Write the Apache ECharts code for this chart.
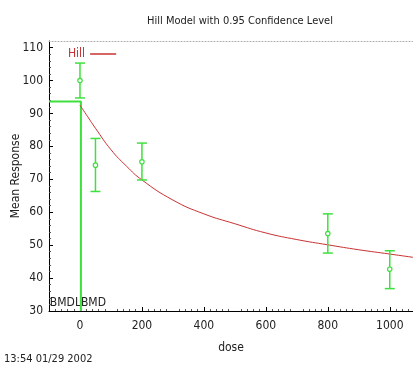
<!DOCTYPE html>
<html>
<head>
<meta charset="utf-8">
<script src="https://cdn.jsdelivr.net/npm/echarts@6/dist/echarts.min.js"></script>
<style>
  html, body { margin: 0; padding: 0; background: #fff; }
  #chart { width: 413px; height: 369px; }
</style>
</head>
<body>
<div id="chart"></div>
<script>
// Observed group means with 95% confidence limits
const doses = [0, 50, 200, 800, 1000];
const means = [100, 74.3, 75.3, 53.5, 42.7];
const lower = [94.7, 66.3, 69.8, 47.6, 36.8];
const upper = [105.3, 82.4, 81.0, 59.5, 48.3];

// Fitted Hill curve
const curveDose = [0, 25, 50, 100, 150, 200, 300, 400, 500, 600, 700, 800, 900, 1000, 1075];
const curveResp = [92.5, 89, 85.5, 79, 74, 69.8, 63.7, 59.5, 56.5, 53.7, 51.7, 50.1, 48.6, 47.3, 46.3];

// Benchmark dose markers
const bmdResponse = 93.6;
const bmdDose = 3;

// Axis ticks
const xTicks = [0, 200, 400, 600, 800, 1000];
const yTicks = [30, 40, 50, 60, 70, 80, 90, 100, 110];

const FONT = "'DejaVu Sans Condensed', 'Liberation Sans Narrow', 'Liberation Sans', Arial, sans-serif";
const GREEN = '#3ee03e';
const RED = '#c83232';

const chart = echarts.init(document.getElementById('chart'), null, { renderer: 'canvas' });

const errorData = doses.map((d, i) => [d, lower[i], upper[i], means[i]]);
const plain = v => String(v);

const stamp = {
  type: 'text', left: 4, top: 354,
  style: { text: '13:54 01/29 2002', font: '11px ' + FONT, fill: '#222' }
};

chart.setOption({
  animation: false,
  backgroundColor: '#ffffff',
  title: {
    text: 'Hill Model with 0.95 Confidence Level',
    left: 235, top: 11, textAlign: 'center',
    textStyle: { fontFamily: FONT, fontSize: 11, fontWeight: 'normal', color: '#222' }
  },
  legend: {
    data: [{ name: 'Hill', icon: 'rect' }],
    left: 63, top: 43,
    align: 'right',
    itemWidth: 26, itemHeight: 1.5, itemGap: 4,
    textStyle: { fontFamily: FONT, fontSize: 12, color: RED }
  },
  grid: { left: 49, right: 0, top: 41, bottom: 58, containLabel: false, outerBoundsMode: 'none' },
  xAxis: [{
    type: 'value', min: -100, max: 1075, interval: 100,
    name: 'dose', nameLocation: 'middle', nameGap: 31, nameMoveOverlap: false,
    nameTextStyle: { fontFamily: FONT, fontSize: 12, color: '#222' },
    axisLine: { onZero: false, lineStyle: { color: '#000', width: 1 } },
    axisTick: { inside: true, length: 4, customValues: xTicks, lineStyle: { color: '#000' } },
    minorTick: { show: true, splitNumber: 5, length: 2, lineStyle: { color: '#555' } },
    axisLabel: { customValues: xTicks, formatter: plain, margin: 9, fontFamily: FONT, fontSize: 12, color: '#222' },
    splitLine: { show: false }
  }, {
    type: 'value', position: 'top', min: -100, max: 1075, interval: 100,
    axisLine: { show: true, onZero: false, lineStyle: { color: '#aaa', width: 1, type: [1, 2] } },
    axisTick: { show: false }, axisLabel: { show: false }, splitLine: { show: false }
  }],
  yAxis: [{
    type: 'value', min: 30, max: 112, interval: 10,
    name: 'Mean Response', nameLocation: 'middle', nameGap: 27, nameRotate: 90, nameMoveOverlap: false,
    nameTextStyle: { fontFamily: FONT, fontSize: 12, color: '#222' },
    axisLine: { show: true, onZero: false, lineStyle: { color: '#000', width: 1 } },
    axisTick: { inside: true, length: 4, customValues: yTicks, lineStyle: { color: '#000' } },
    minorTick: { show: true, splitNumber: 5, length: 2, lineStyle: { color: '#555' } },
    axisLabel: { customValues: yTicks, formatter: plain, margin: 6, fontFamily: FONT, fontSize: 12, color: '#222' },
    splitLine: { show: false }
  }],
  series: [{
    name: 'Hill',
    type: 'line',
    data: curveDose.map((d, i) => [d, curveResp[i]]),
    showSymbol: false, symbol: 'none', smooth: true,
    lineStyle: { color: RED, width: 1 },
    itemStyle: { color: RED },
    z: 3
  }, {
    name: 'BMD',
    type: 'line',
    data: [[-100, bmdResponse], [bmdDose, bmdResponse], [bmdDose, 30]],
    showSymbol: false, symbol: 'none',
    lineStyle: { color: GREEN, width: 2 },
    z: 2
  }, {
    name: 'Data',
    type: 'custom',
    data: errorData,
    renderItem: function (params, api) {
      const x = api.value(0);
      const lo = api.coord([x, api.value(1)]);
      const hi = api.coord([x, api.value(2)]);
      const mid = api.coord([x, api.value(3)]);
      const cap = 5;
      const style = { stroke: GREEN, lineWidth: 1.5, fill: null };
      return {
        type: 'group',
        children: [
          { type: 'line', shape: { x1: lo[0], y1: lo[1], x2: hi[0], y2: hi[1] }, style: style },
          { type: 'line', shape: { x1: lo[0] - cap, y1: lo[1], x2: lo[0] + cap, y2: lo[1] }, style: style },
          { type: 'line', shape: { x1: hi[0] - cap, y1: hi[1], x2: hi[0] + cap, y2: hi[1] }, style: style },
          { type: 'circle', shape: { cx: mid[0], cy: mid[1], r: 2.2 }, style: { stroke: GREEN, lineWidth: 1.2, fill: '#fff' } }
        ]
      };
    },
    z: 4
  }],
  graphic: [stamp]
});

// BMDL / BMD captions on either side of the benchmark line
const base = chart.convertToPixel({ xAxisIndex: 0, yAxisIndex: 0 }, [bmdDose, 30]);
chart.setOption({
  graphic: [stamp, {
    type: 'text', x: base[0], y: base[1] - 2,
    style: { text: 'BMDL', font: '12px ' + FONT, fill: '#222', align: 'right', verticalAlign: 'bottom' }
  }, {
    type: 'text', x: base[0], y: base[1] - 2,
    style: { text: 'BMD', font: '12px ' + FONT, fill: '#222', align: 'left', verticalAlign: 'bottom' }
  }]
});
</script>
</body>
</html>
